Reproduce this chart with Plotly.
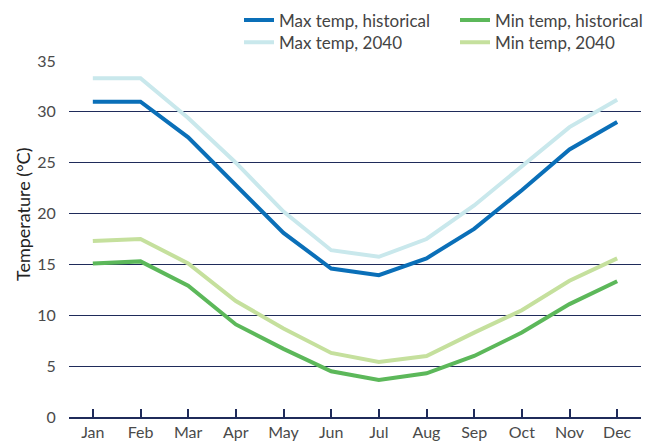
import plotly.graph_objects as go

months = ["Jan", "Feb", "Mar", "Apr", "May", "Jun", "Jul", "Aug", "Sep", "Oct", "Nov", "Dec"]
max_hist = [31.0, 31.0, 27.5, 22.8, 18.1, 14.6, 13.95, 15.6, 18.5, 22.3, 26.3, 29.0]
max_2040 = [33.3, 33.3, 29.4, 25.0, 20.2, 16.4, 15.75, 17.5, 20.8, 24.7, 28.5, 31.2]
min_hist = [15.1, 15.3, 12.9, 9.1, 6.7, 4.5, 3.65, 4.3, 6.0, 8.3, 11.1, 13.35]
min_2040 = [17.3, 17.5, 15.1, 11.4, 8.7, 6.3, 5.4, 6.0, 8.3, 10.5, 13.4, 15.6]
y_title = "Temperature (°C)"

FONT = "Lato"
GRID = "#1f2b5a"

fig = go.Figure()
series = [
    ("Max temp, historical", max_hist, "#0a6fb8", "legend"),
    ("Max temp, 2040", max_2040, "#c9e8ec", "legend3"),
    ("Min temp, historical", min_hist, "#5cb85a", "legend2"),
    ("Min temp, 2040", min_2040, "#c5e09d", "legend4"),
]
for name, vals, col, lg in series:
    fig.add_trace(go.Scatter(
        x=months, y=vals, name=name, mode="lines",
        line=dict(color=col, width=4),
        legend=lg, showlegend=True,
    ))


def leg(px_x, px_top):
    return dict(
        visible=True, orientation="v",
        x=(px_x - 69) / 572, y=1 + (61 - px_top) / 356, xanchor="left", yanchor="top",
        font=dict(size=17, color="#444444"), tracegroupgap=0,
        bgcolor="rgba(0,0,0,0)",
    )


fig.update_layout(
    width=657, height=441,
    showlegend=True,
    margin=dict(l=69, r=16, t=61, b=24, autoexpand=False),
    paper_bgcolor="white", plot_bgcolor="white",
    font=dict(family=FONT, size=16, color="#4a4a4a"),
    legend=leg(239, 2.5),
    legend2=leg(455, 2.5),
    legend3=leg(239, 24.7),
    legend4=leg(455, 24.7),
    xaxis=dict(
        range=[-0.5, 11.5], showgrid=False, showline=True, linecolor=GRID, linewidth=1.5,
        ticks="inside", ticklen=8, tickcolor=GRID, tickwidth=1.5, automargin=False,
        tickfont=dict(size=16, color="#4a4a4a"), zeroline=False, fixedrange=True,
    ),
    yaxis=dict(
        range=[0, 35], dtick=5, tick0=0, showgrid=True, gridcolor=GRID, gridwidth=1,
        zeroline=False, showline=False, ticks="", automargin=False, fixedrange=True,
        tickfont=dict(size=16, color="#4a4a4a"), ticksuffix="   ",
    ),
    annotations=[dict(
        text=y_title, textangle=-90, showarrow=False,
        xref="paper", yref="paper",
        x=(23 - 69) / 572, y=(417 - 215) / 356, xanchor="center", yanchor="middle",
        font=dict(size=18, color="#222222"),
    )],
)

fig.write_html(
    "out.html",
    config={"displayModeBar": False},
    post_script="document.body.style.margin='0';document.body.style.overflow='hidden';",
)
